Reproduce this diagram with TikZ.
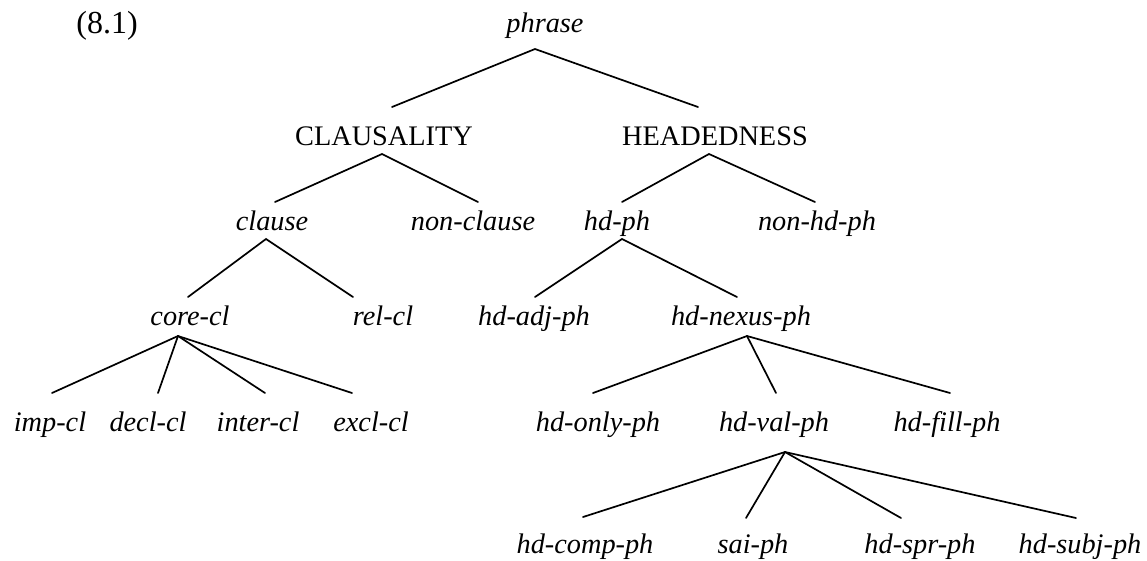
\documentclass[tikz,border=0pt]{standalone}
\usepackage{fontspec}
\setmainfont{Liberation Serif}
\usetikzlibrary{calc}
\begin{document}
\begin{tikzpicture}[x=1pt,y=-1pt,
  lbl/.style={font=\fontsize{28.3}{34}\selectfont\itshape, anchor=base, inner sep=0pt},
  dim/.style={font=\fontsize{28.3}{34}\selectfont, anchor=base, inner sep=0pt},
  br/.style={line width=1.7pt, line cap=round}]
\useasboundingbox (0,0) rectangle (1147,560);

% example number
\node[dim, font=\fontsize{32}{38}\selectfont] (num) at (107,33) {(8.1)};

% root and dimensions
\node[lbl] (phrase) at (545,32) {phrase};
\node[dim] (claus) at (384,145) {CLAUSALITY};
\node[dim] (head) at (715,145) {HEADEDNESS};

% second level
\node[lbl] (clause) at (272,230) {clause};
\node[lbl] (nonclause) at (473,230) {non-clause};
\node[lbl] (hdph) at (617,230) {hd-ph};
\node[lbl] (nonhdph) at (817,230) {non-hd-ph};

% third level
\node[lbl] (corecl) at (190,325) {core-cl};
\node[lbl] (relcl) at (383,325) {rel-cl};
\node[lbl] (hdadj) at (534,325) {hd-adj-ph};
\node[lbl] (hdnexus) at (741,325) {hd-nexus-ph};

% fourth level
\node[lbl] (impcl) at (50,431) {imp-cl};
\node[lbl] (declcl) at (148,431) {decl-cl};
\node[lbl] (intercl) at (258,431) {inter-cl};
\node[lbl] (exclcl) at (371,431) {excl-cl};
\node[lbl] (hdonly) at (598,431) {hd-only-ph};
\node[lbl] (hdval) at (774,431) {hd-val-ph};
\node[lbl] (hdfill) at (947,431) {hd-fill-ph};

% fifth level
\node[lbl] (hdcomp) at (585,553) {hd-comp-ph};
\node[lbl] (saiph) at (753,553) {sai-ph};
\node[lbl] (hdspr) at (920,553) {hd-spr-ph};
\node[lbl] (hdsubj) at (1080,553) {hd-subj-ph};

% branches
\draw[br] ($(claus.base)+(8,-38)$) -- ($(phrase.base)+(-10,17)$) -- ($(head.base)+(-17,-38)$);
\draw[br] ($(clause.base)+(3,-28)$) -- ($(claus.base)+(-2,9)$) -- ($(nonclause.base)+(5,-28)$);
\draw[br] ($(hdph.base)+(5,-28)$) -- ($(head.base)+(-6,9)$) -- ($(nonhdph.base)+(-2,-28)$);
\draw[br] ($(corecl.base)+(-2,-28)$) -- ($(clause.base)+(-6,9)$) -- ($(relcl.base)+(-30,-28)$);
\draw[br] ($(hdadj.base)+(1,-28)$) -- ($(hdph.base)+(5,9)$) -- ($(hdnexus.base)+(-4,-28)$);

\coordinate (coretop) at ($(corecl.base)+(-12,11)$);
\draw[br] (coretop) -- ($(impcl.base)+(2,-38)$);
\draw[br] (coretop) -- ($(declcl.base)+(10,-38)$);
\draw[br] (coretop) -- ($(intercl.base)+(7,-38)$);
\draw[br] (coretop) -- ($(exclcl.base)+(-19,-38)$);

\coordinate (nexustop) at ($(hdnexus.base)+(6,11)$);
\draw[br] (nexustop) -- ($(hdonly.base)+(-5,-38)$);
\draw[br] (nexustop) -- ($(hdval.base)+(2,-38)$);
\draw[br] (nexustop) -- ($(hdfill.base)+(3,-38)$);

\coordinate (valtop) at ($(hdval.base)+(11,21)$);
\draw[br] (valtop) -- ($(hdcomp.base)+(-2,-36)$);
\draw[br] (valtop) -- ($(saiph.base)+(-7,-35)$);
\draw[br] (valtop) -- ($(hdspr.base)+(-19,-35)$);
\draw[br] (valtop) -- ($(hdsubj.base)+(-4,-35)$);
\end{tikzpicture}
\end{document}
